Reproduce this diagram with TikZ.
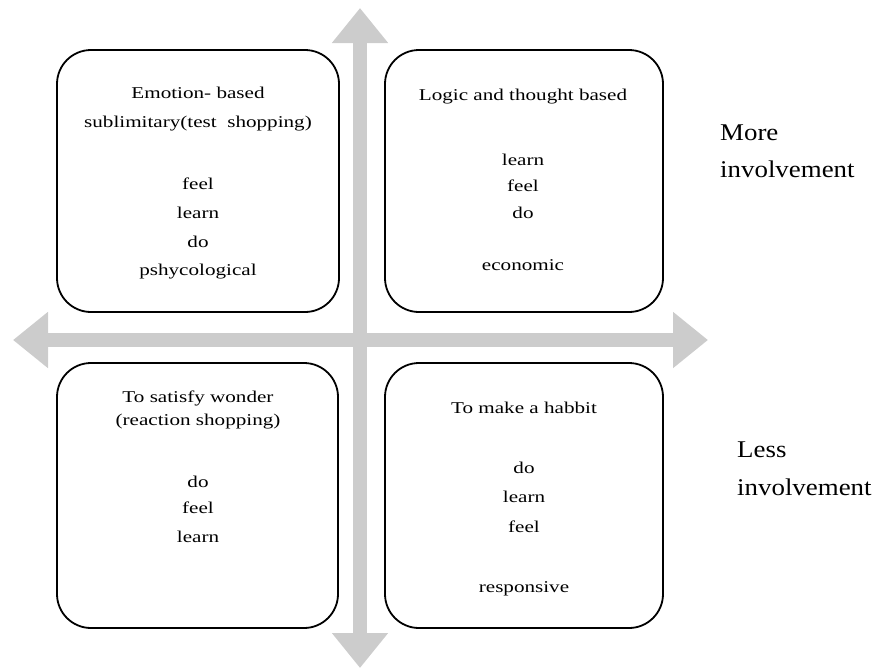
\documentclass[tikz,border=0pt]{standalone}
\usepackage{fontspec}
\setmainfont{Liberation Serif}
\newfontfamily\boxfont[FakeStretch=1.28]{Liberation Serif}
\newfontfamily\labfont[FakeStretch=1.12]{Liberation Serif}
\usetikzlibrary{arrows.meta}
\definecolor{axisgray}{HTML}{CCCCCC}
\tikzset{
  quad/.style={draw=black, line width=1.8pt, rounded corners=34pt, inner sep=0pt},
  btxt/.style={font=\boxfont\fontsize{16.5}{20}\selectfont, anchor=base, inner sep=0pt},
  ltxt/.style={font=\labfont\fontsize{24}{28}\selectfont, anchor=base west, inner sep=0pt},
  axisarrow/.style={draw=axisgray, line width=14pt,
    {Triangle[length=35pt,width=54pt]}-{Triangle[length=35pt,width=54pt]}}
}
\begin{document}
\begin{tikzpicture}[x=1pt,y=-1pt]
\useasboundingbox (0,0) rectangle (878,670);
% axes
\coordinate (hl) at (13,340);
\coordinate (hr) at (708,340);
\coordinate (vt) at (360,8);
\coordinate (vb) at (360,668);
\draw[axisarrow] (hl) -- (hr);
\draw[axisarrow] (vt) -- (vb);
% boxes
\node[quad, minimum width=282pt, minimum height=262pt] (tl) at (198,181) {};
\node[quad, minimum width=278pt, minimum height=262pt] (tr) at (524,181) {};
\node[quad, minimum width=281pt, minimum height=265pt] (bl) at (197.5,495.5) {};
\node[quad, minimum width=278pt, minimum height=265pt] (br) at (524,495.5) {};
% top-left text
\node[btxt] (tl1) at (198,98) {Emotion- based};
\node[btxt] (tl2) at (198,127) {sublimitary(test\ \ shopping)};
\node[btxt] (tl3) at (198,189) {feel};
\node[btxt] (tl4) at (198,218) {learn};
\node[btxt] (tl5) at (198,247) {do};
\node[btxt] (tl6) at (198,275) {pshycological};
% top-right text
\node[btxt] (tr1) at (523,100) {Logic and thought based};
\node[btxt] (tr2) at (523,165) {learn};
\node[btxt] (tr3) at (523,191) {feel};
\node[btxt] (tr4) at (523,218) {do};
\node[btxt] (tr5) at (523,270) {economic};
% bottom-left text
\node[btxt] (bl1) at (198,402) {To satisfy wonder};
\node[btxt] (bl2) at (198,425) {(reaction\ shopping)};
\node[btxt] (bl3) at (198,487) {do};
\node[btxt] (bl4) at (198,513) {feel};
\node[btxt] (bl5) at (198,542) {learn};
% bottom-right text
\node[btxt] (br1) at (524,413) {To make a habbit};
\node[btxt] (br2) at (524,473) {do};
\node[btxt] (br3) at (524,502) {learn};
\node[btxt] (br4) at (524,532) {feel};
\node[btxt] (br5) at (524,592) {responsive};
% side labels
\node[ltxt] (m1) at (720,140) {More};
\node[ltxt] (m2) at (720,177) {involvement};
\node[ltxt] (l1) at (737,457) {Less};
\node[ltxt] (l2) at (737,495) {involvement};
\end{tikzpicture}
\end{document}
